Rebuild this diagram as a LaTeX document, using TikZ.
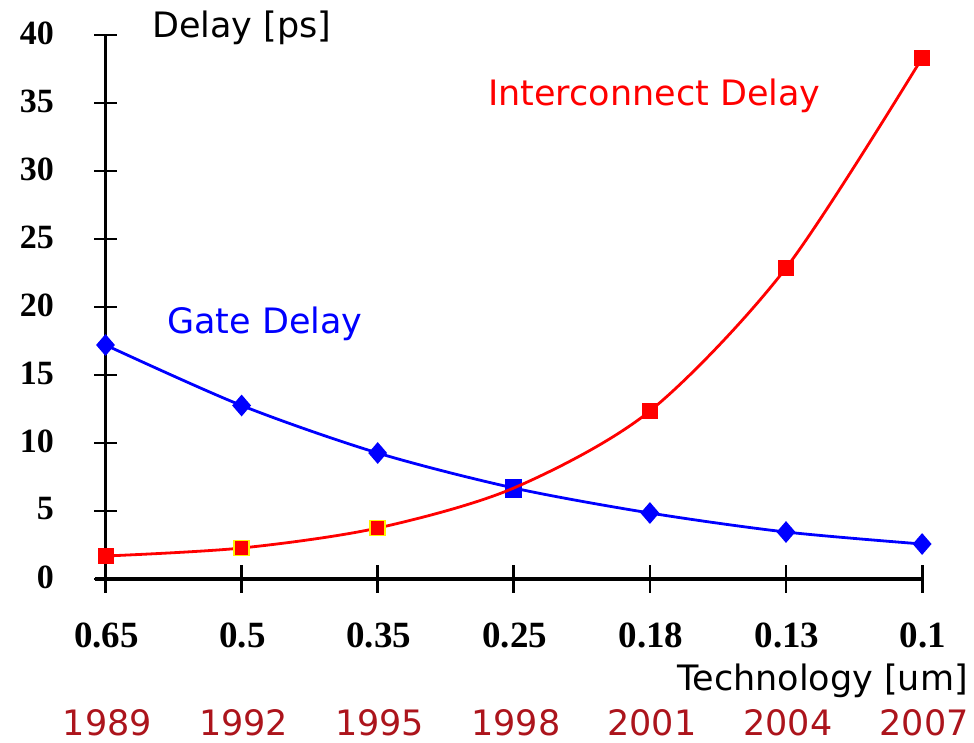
\documentclass[tikz,border=0pt]{standalone}
\usepackage{fontspec}
\setmainfont{Liberation Serif}
\newfontfamily\chartsans{DejaVu Sans}
\usetikzlibrary{shapes.geometric}
\definecolor{yearred}{RGB}{172,20,28}

\tikzset{
  axisline/.style={line width=3.2pt, black},
  tickline/.style={line width=2.8pt, black},
  gatecurve/.style={line width=2.8pt, blue},
  wirecurve/.style={line width=2.8pt, red},
  gatemark/.style={diamond, fill=blue, inner sep=0pt, minimum width=19pt, minimum height=22pt},
  gatesq/.style={rectangle, fill=blue, inner sep=0pt, minimum width=17pt, minimum height=19pt},
  wiremark/.style={rectangle, fill=red, inner sep=0pt, minimum size=16pt},
  wiremarkhl/.style={wiremark, draw=yellow, line width=1.8pt, minimum size=15pt},
  xlab/.style={inner sep=0pt, anchor=base, font=\bfseries\fontsize{37}{40}\selectfont},
  ylab/.style={inner sep=0pt, anchor=east, font=\bfseries\fontsize{34}{38}\selectfont},
  sanslab/.style={inner sep=0pt, font=\chartsans\fontsize{35}{40}\selectfont},
  yearlab/.style={sanslab, anchor=base, text=yearred},
}

\begin{document}
\begin{tikzpicture}[x=1pt, y=-1pt]
\useasboundingbox (0,0) rectangle (974,742);

% axes
\draw[axisline] (105.5,35) -- (105.5,593);
\draw[axisline] (95,579) -- (922.1,579);

% y ticks and labels (every 5 ps)
\foreach \v/\py in {0/579, 5/511, 10/443, 15/375, 20/307, 25/239, 30/171, 35/103, 40/35} {
  \draw[tickline] (94,\py) -- (117,\py);
  \node[ylab] (yl\v) at (54,\py-2) {\v};
}

% x ticks, technology labels and years
\foreach \i/\px/\tech/\yr in {1/105.5/0.65/1989, 2/241.6/0.5/1992, 3/377.7/0.35/1995,
                              4/513.8/0.25/1998, 5/649.9/0.18/2001, 6/786/0.13/2004, 7/922.1/0.1/2007} {
  \draw[tickline] (\px,565) -- (\px,593);
  \node[xlab] (xl\i) at (\px+1,647) {\tech};
  \node[yearlab] (yr\i) at (\px+2,735) {\yr};
}

% axis titles
\node[sanslab, anchor=base west] (ytitle) at (152,37) {Delay [ps]};
\node[sanslab, anchor=base east] (xtitle) at (968,690) {Technology [um]};

% data points
\foreach \i/\px/\gy/\wy in {1/105.5/345/556, 2/241.6/405.5/548, 3/377.7/453/528,
                            4/513.8/488/488, 5/649.9/513/411, 6/786/532/268, 7/922.1/544/58} {
  \coordinate (g\i) at (\px,\gy);
  \coordinate (w\i) at (\px,\wy);
}

% gate delay curve
\draw[gatecurve] plot[smooth, tension=0.5] coordinates {(g1) (g2) (g3) (g4) (g5) (g6) (g7)};
\foreach \i in {1,2,3,5,6,7} { \node[gatemark] (gm\i) at (g\i) {}; }
\node[gatesq] (gm4) at (g4) {};

% interconnect delay curve
\draw[wirecurve] plot[smooth, tension=0.5] coordinates {(w1) (w2) (w3) (w4) (w5) (w6) (w7)};
\foreach \i in {1,5,6,7} { \node[wiremark] (wm\i) at (w\i) {}; }
\foreach \i in {2,3} { \node[wiremarkhl] (wm\i) at (w\i) {}; }

% curve labels
\node[sanslab, anchor=base west, text=blue] (gatelab) at (167,333) {Gate Delay};
\node[sanslab, anchor=base west, text=red] (wirelab) at (488,105) {Interconnect Delay};
\end{tikzpicture}
\end{document}
